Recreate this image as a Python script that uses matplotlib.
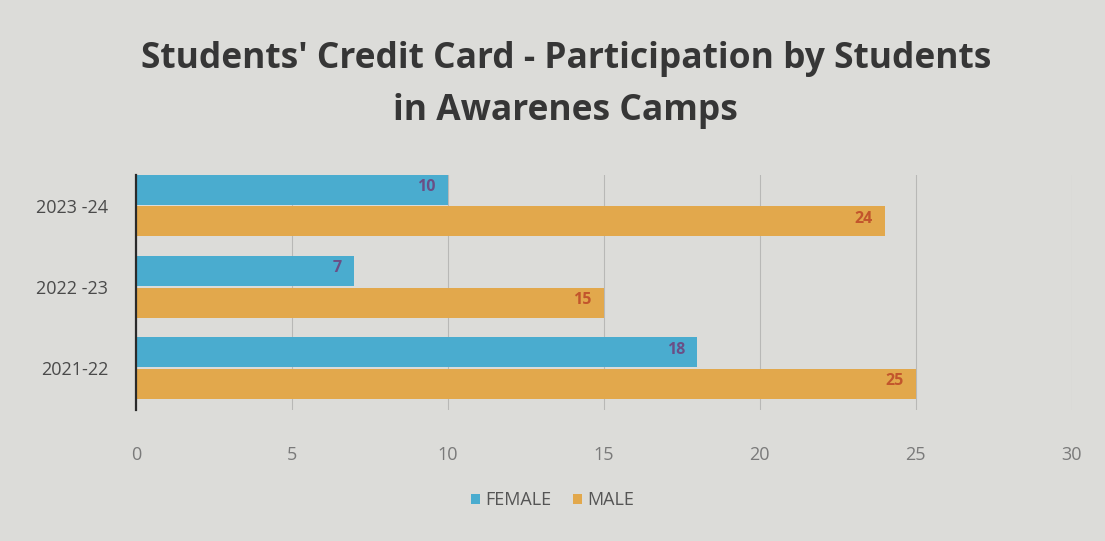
import matplotlib.pyplot as plt
import numpy as np

years = ['2021-22', '2022 -23', '2023 -24']
female = [18, 7, 10]
male = [25, 15, 24]
x_ticks = [0, 5, 10, 15, 20, 25, 30]

plt.rcParams['font.family'] = ['Open Sans', 'DejaVu Sans']

fig = plt.figure(figsize=(11.05, 5.41), dpi=100)
fig.patch.set_facecolor('#dcdcd9')
ax = fig.add_axes([0.123, 0.242, 0.847, 0.435])
ax.set_facecolor('#dcdcd9')

y = np.arange(len(years))
h = 0.37
b1 = ax.barh(y + h / 2 + 0.01, female, height=h, color='#4aaccf', label='FEMALE', zorder=2)
b2 = ax.barh(y - h / 2 - 0.01, male, height=h, color='#e2a84c', label='MALE', zorder=2)

for bar, v in zip(b1, female):
    ax.text(v - 0.4, bar.get_y() + bar.get_height() / 2 + 0.03, str(v), ha='right', va='center',
            fontsize=11.5, fontweight='bold', color='#6a4f86', zorder=3)
for bar, v in zip(b2, male):
    ax.text(v - 0.4, bar.get_y() + bar.get_height() / 2 + 0.03, str(v), ha='right', va='center',
            fontsize=11.5, fontweight='bold', color='#c2552c', zorder=3)

ax.set_xlim(0, 30)
ax.set_ylim(-0.52, 2.38)
ax.set_xticks(x_ticks)
ax.set_xticklabels([str(t) for t in x_ticks], color='#7a7a7a', fontsize=13)
ax.set_yticks(y)
ax.set_yticklabels(years, color='#4a4a4a', fontsize=13)
ax.tick_params(axis='x', length=0, pad=26)
ax.tick_params(axis='y', length=0, pad=20)
ax.grid(axis='x', color='#b8b8b6', linewidth=0.8, zorder=0)
for s in ['top', 'right', 'bottom']:
    ax.spines[s].set_visible(False)
ax.spines['left'].set_color('#2a2a2a')
ax.spines['left'].set_linewidth(1.6)

fig.suptitle("Students' Credit Card - Participation by Students\nin Awarenes Camps",
             x=0.512, y=0.925, fontsize=25.5, fontweight='bold', color='#363636', linespacing=1.6)

fig.legend(handles=[b1, b2], loc='center', bbox_to_anchor=(0.5, 0.075), ncol=2, frameon=False,
           fontsize=13, labelcolor='#555555', handlelength=0.5, handleheight=0.5,
           handletextpad=0.3, columnspacing=1.2)

fig.savefig('out.png', dpi=100, facecolor=fig.get_facecolor())
